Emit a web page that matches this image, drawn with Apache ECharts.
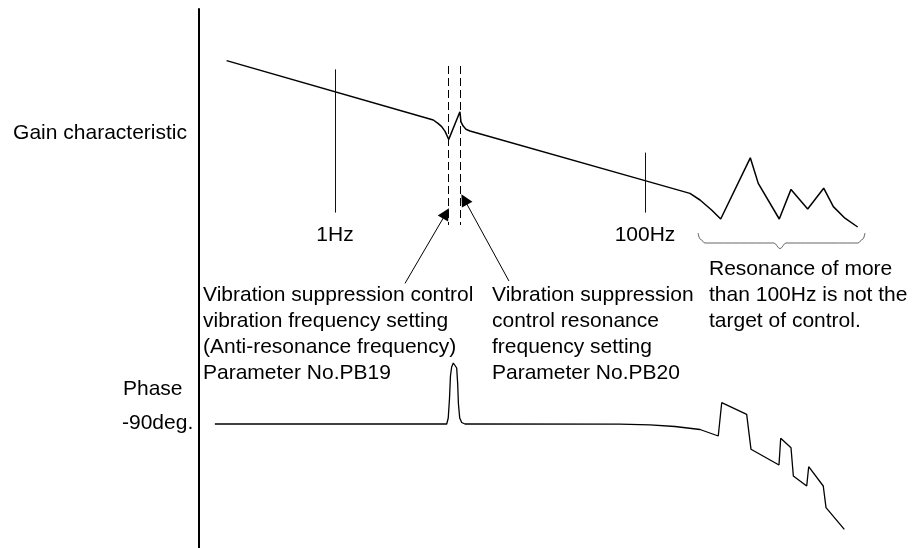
<!DOCTYPE html>
<html>
<head>
<meta charset="utf-8">
<script src="https://cdn.jsdelivr.net/npm/echarts@6/dist/echarts.min.js"></script>
<style>
  html, body { margin: 0; padding: 0; background: #fff; }
  #chart { width: 923px; height: 548px; }
</style>
</head>
<body>
<div id="chart"></div>
<script>
// Gain characteristic: [frequency (Hz), gain (dB)]
const gainCurve = [
  [0.2, -12.9], [4.31, -27.75], [4.62, -28.6], [4.88, -29.4], [5.13, -30.6], [5.26, -31.5], [5.42, -32.6],
  [6.4, -25.7], [6.5, -28.2], [6.7, -29.2], [7.0, -30.05], [7.43, -30.5],
  [100, -42.9], [195, -46.1], [226.5, -47.75], [269, -50.25], [308, -52.5],
  [478, -37.2], [538, -43.6], [735, -52.5], [875, -45.1], [1121, -50], [1422, -44.8],
  [1641, -49.4], [1950, -52.3], [2355, -54.5]
];

// Phase characteristic: [frequency (Hz), phase (deg)]
const phaseCurve = [
  [0.168, -90], [5.26, -90], [5.38, -84], [5.48, -65], [5.56, -42], [5.66, -33], [5.8, -29],
  [5.95, -29.5], [6.1, -34], [6.19, -50], [6.26, -70], [6.38, -84], [6.57, -88.5], [6.9, -90],
  [69, -90.2], [107.7, -90.8], [156, -92.5], [226.5, -95.5], [297, -102],
  [312.6, -68.7], [453, -80.3], [483, -115.3], [732, -131], [751, -104.3], [875, -113.7],
  [906, -142], [1105, -152], [1138, -132.7], [1413, -152], [1472, -173.7], [1932, -195.3]
];

// Brace grouping the high-frequency resonances: [frequency (Hz), gain (dB)]
const braceShape = [
  [220, -56], [226.5, -57.5], [244, -58.5], [679, -58.5], [743, -59.9],
  [812, -58.5], [2366, -58.5], [2548, -57.5], [2626, -56]
];

// Frequency reference marks and their labels
const tickFreqs = [1, 100];
const tickLabels = ['1Hz', '100Hz'];
const tickTopDb = [-15.1, -35.9];
const tickBottomDb = -50.9;
const tickLabelDb = -56.5;

// Anti-resonance / resonance frequency settings (dashed guides)
const notchFreqs = [5.4, 6.4];
const notchSpanDb = [-14.25, -54];

// Pointer arrows: [tail, tip] as [frequency (Hz), gain (dB)]
const pointerArrows = [
  [[2.83, -68.6], [5.2, -51.1]],
  [[13.26, -68], [6.83, -47.6]]
];

// Visible frequency range of the diagram
const freqMin = 0.1327;
const freqMax = 6217;

const FONT = '"Liberation Sans", Arial, Helvetica, sans-serif';
const chart = echarts.init(document.getElementById('chart'), null, { renderer: 'canvas' });

const plainAxis = {
  axisLine: { show: true, onZero: false, lineStyle: { color: '#000', width: 2 } },
  axisTick: { show: false },
  axisLabel: { show: false },
  splitLine: { show: false }
};

const textBlock = (x, y, text, align) => ({
  type: 'text',
  x: x, y: y,
  style: {
    text: text,
    font: '21px ' + FONT,
    fill: '#000',
    textAlign: align || 'left',
    textVerticalAlign: 'top',
    lineHeight: 26
  }
});

const tickLines = tickFreqs.map((f, i) => [
  { coord: [f, tickTopDb[i]], lineStyle: { color: '#111', width: 1, type: 'solid' } },
  { coord: [f, tickBottomDb] }
]);
const notchLines = notchFreqs.map(f => [
  { coord: [f, notchSpanDb[0]], lineStyle: { color: '#000', width: 1, type: [8, 4] } },
  { coord: [f, notchSpanDb[1]] }
]);

chart.setOption({
  animation: false,
  backgroundColor: '#fff',
  grid: [
    { left: 199, right: 0, top: 9, height: 240 },
    { left: 199, right: 0, top: 249, height: 299 }
  ],
  xAxis: [
    { gridIndex: 0, type: 'log', logBase: 10, min: freqMin, max: freqMax, show: false },
    { gridIndex: 1, type: 'log', logBase: 10, min: freqMin, max: freqMax, show: false }
  ],
  yAxis: [
    Object.assign({ gridIndex: 0, type: 'value', min: -60, max: 0 }, plainAxis),
    Object.assign({ gridIndex: 1, type: 'value', min: -214, max: 85 }, plainAxis)
  ],
  series: [
    {
      name: 'Gain',
      type: 'line',
      xAxisIndex: 0, yAxisIndex: 0,
      data: gainCurve,
      symbol: 'none',
      clip: false,
      lineStyle: { color: '#000', width: 1.5 },
      markLine: {
        silent: true,
        symbol: 'none',
        label: { show: false },
        data: tickLines.concat(notchLines)
      }
    },
    {
      name: 'Pointers',
      type: 'lines',
      coordinateSystem: 'cartesian2d',
      xAxisIndex: 0, yAxisIndex: 0,
      clip: false,
      silent: true,
      symbol: ['none', 'triangle'],
      symbolSize: [9, 12],
      lineStyle: { color: '#000', width: 1, opacity: 1, curveness: 0 },
      data: pointerArrows.map(a => ({ coords: [a[0], a[1]] }))
    },
    {
      name: 'Brace',
      type: 'line',
      xAxisIndex: 0, yAxisIndex: 0,
      data: braceShape,
      symbol: 'none',
      clip: false,
      smooth: 0.4,
      smoothMonotone: 'x',
      lineStyle: { color: '#666', width: 1 }
    },
    {
      name: 'Frequency labels',
      type: 'scatter',
      xAxisIndex: 0, yAxisIndex: 0,
      data: tickFreqs.map((f, i) => ({ value: [f, tickLabelDb], name: tickLabels[i] })),
      symbolSize: 1,
      clip: false,
      itemStyle: { color: 'transparent', opacity: 1 },
      label: {
        show: true,
        position: 'inside',
        formatter: p => p.name,
        color: '#000',
        fontSize: 21,
        fontFamily: FONT
      }
    },
    {
      name: 'Phase',
      type: 'line',
      xAxisIndex: 1, yAxisIndex: 1,
      data: phaseCurve,
      symbol: 'none',
      clip: false,
      lineStyle: { color: '#000', width: 1.3 }
    }
  ],
  graphic: [
    textBlock(187, 120, 'Gain characteristic', 'right'),
    textBlock(123, 376, 'Phase'),
    textBlock(122, 410, '-90deg.'),
    textBlock(203, 282, 'Vibration suppression control\nvibration frequency setting\n(Anti-resonance frequency)\nParameter No.PB19'),
    textBlock(492, 282, 'Vibration suppression\ncontrol resonance\nfrequency setting\nParameter No.PB20'),
    textBlock(709, 256, 'Resonance of more\nthan 100Hz is not the\ntarget of control.')
  ]
});
</script>
</body>
</html>
